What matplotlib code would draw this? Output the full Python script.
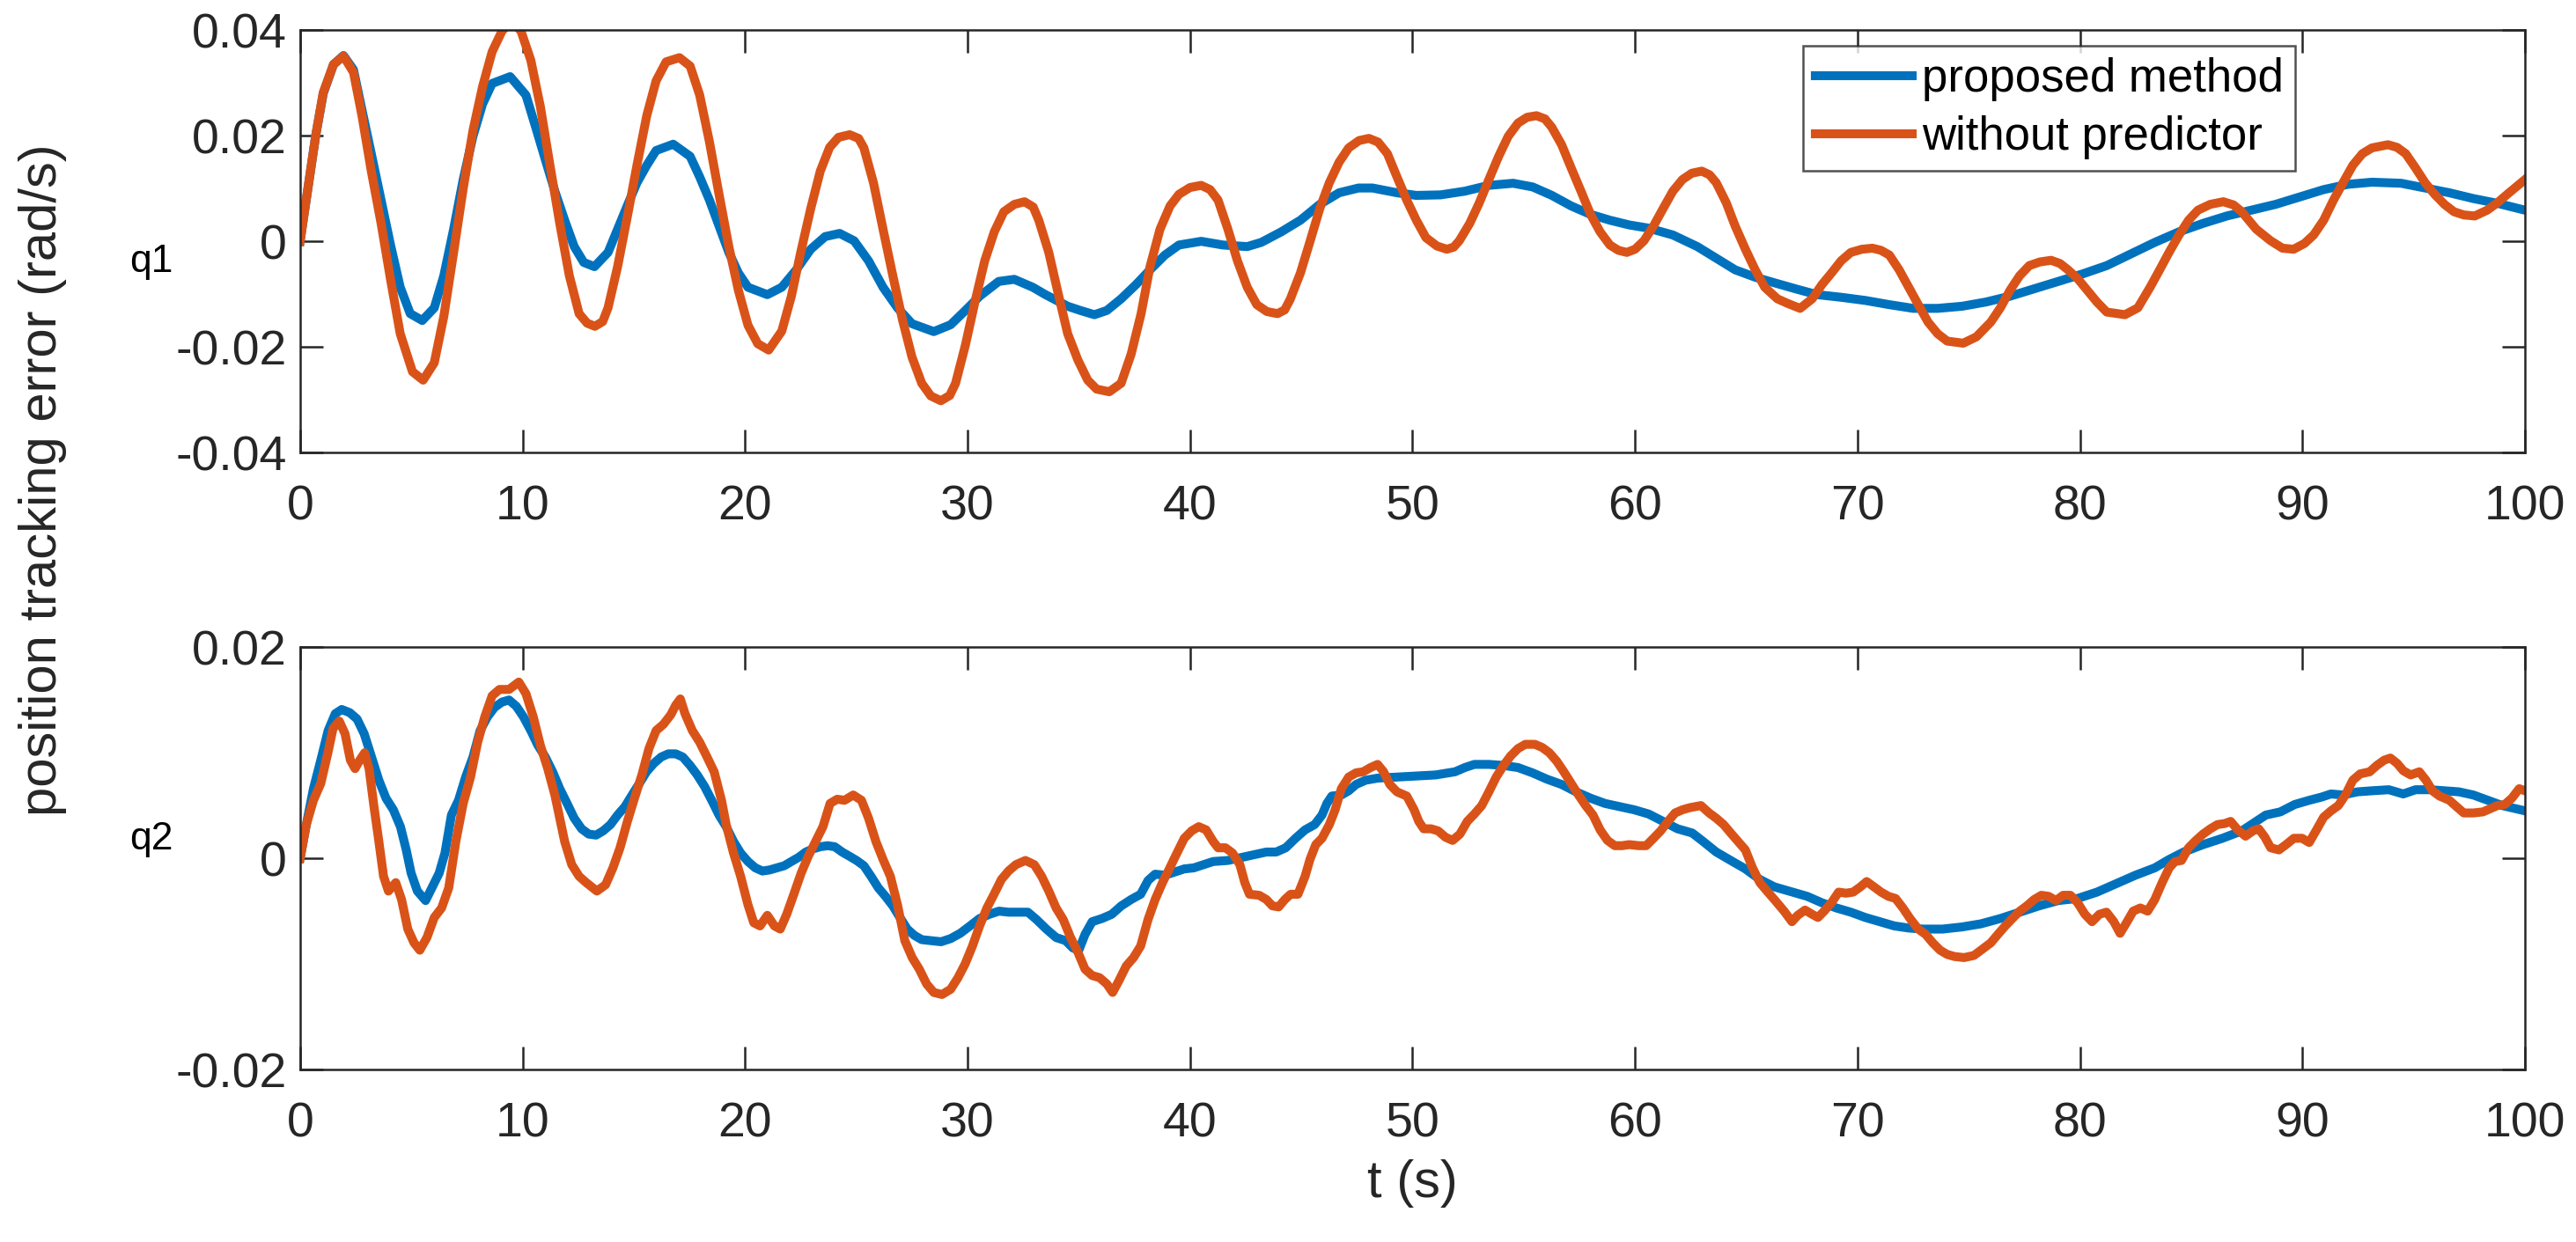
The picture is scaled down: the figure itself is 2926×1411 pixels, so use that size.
# q1 / q2 tracking error: proposed method vs. without predictor

import numpy as np
import matplotlib
matplotlib.use('Agg')
import matplotlib.pyplot as plt

plt.rcParams['font.family'] = ['Liberation Sans', 'DejaVu Sans']
plt.rcParams['axes.unicode_minus'] = False

# ---------------- data ----------------
# q1, proposed method
t_q1_prop = [0, 0.7, 1.04, 1.5, 1.95, 2.4, 2.78, 3.2, 3.64, 4.08, 4.5, 4.95, 5.49, 6.03, 6.46, 6.9,
             7.33, 7.77, 8.2, 8.63, 9.44, 10.15, 10.59, 11.02, 11.45, 11.89, 12.32, 12.75, 13.23,
             13.84, 14.27, 14.7, 15.14, 15.58, 16.0, 16.77, 17.53, 17.96, 18.4, 18.83, 19.27, 19.7,
             20.13, 21.0, 21.65, 22.3, 22.95, 23.6, 24.25, 24.9, 25.55, 26.2, 26.85, 27.5, 28.48,
             29.24, 29.9, 30.54, 31.4, 32.1, 32.93, 33.5, 34.5, 35.07, 35.7, 36.26, 36.9, 37.57,
             38.2, 38.87, 39.5, 40.5, 41.48, 42.57, 43.2, 44.1, 44.96, 45.83, 46.7, 47.57, 48.2,
             49.3, 50.17, 51.26, 52.35, 53.43, 54.52, 55.4, 56.26, 57.13, 58.0, 58.87, 59.74, 60.6,
             61.7, 62.8, 63.65, 64.5, 65.4, 66.3, 67.3, 68.18, 69.26, 70.35, 71.43, 72.5, 73.6,
             74.7, 75.77, 76.85, 77.94, 79.02, 80.1, 81.2, 82.28, 83.36, 84.45, 85.53, 86.6, 87.7,
             88.79, 89.87, 90.95, 92.04, 93.12, 94.43, 95.51, 96.6, 97.68, 98.76, 100]
e_q1_prop = [0, 0.020, 0.028, 0.0335, 0.0352, 0.0325, 0.0249, 0.0166, 0.0078, -0.001, -0.0087,
             -0.0137, -0.015, -0.0126, -0.0065, 0.0023, 0.0117, 0.0199, 0.026, 0.0299, 0.0312,
             0.0277, 0.0216, 0.0155, 0.0095, 0.004, -0.001, -0.004, -0.0048, -0.0021, 0.0023,
             0.0067, 0.0111, 0.0144, 0.0172, 0.0184, 0.0161, 0.0122, 0.0078, 0.0029, -0.0021,
             -0.006, -0.0087, -0.0101, -0.0087, -0.0054, -0.0015, 0.0009, 0.0015, 0.0001, -0.0037,
             -0.0087, -0.0126, -0.0156, -0.0171, -0.0158, -0.0131, -0.0104, -0.0076, -0.0072,
             -0.0087, -0.0101, -0.0123, -0.0131, -0.0139, -0.0131, -0.0109, -0.0082, -0.0054,
             -0.0026, -0.0007, 0.0, -0.0007, -0.001, -0.0002, 0.0018, 0.004, 0.007, 0.0092, 0.0101,
             0.0101, 0.0092, 0.0087, 0.0088, 0.0095, 0.0106, 0.011, 0.0103, 0.0087, 0.0067, 0.0051,
             0.004, 0.0031, 0.0025, 0.0012, -0.001, -0.0032, -0.0054, -0.0068, -0.0079, -0.0091,
             -0.0101, -0.0106, -0.0112, -0.012, -0.0127, -0.0127, -0.0123, -0.0115, -0.0104,
             -0.009, -0.0076, -0.0062, -0.0046, -0.0024, -0.0002, 0.0018, 0.0034, 0.0048, 0.0059,
             0.007, 0.0084, 0.0098, 0.0108, 0.0112, 0.011, 0.0101, 0.0092, 0.0081, 0.0072, 0.0059]

# q1, without predictor
t_q1_wo = [0, 0.7, 1.04, 1.5, 1.95, 2.4, 2.78, 3.2, 3.64, 4.08, 4.5, 5.05, 5.53, 6.03, 6.46, 6.9,
           7.33, 7.77, 8.2, 8.63, 9.07, 9.5, 9.93, 10.37, 10.8, 11.23, 11.67, 12.1, 12.54, 12.9,
           13.25, 13.6, 13.84, 14.27, 14.7, 15.14, 15.58, 16.0, 16.45, 17.05, 17.53, 17.96, 18.4,
           18.83, 19.27, 19.7, 20.13, 20.57, 21.06, 21.65, 22.08, 22.5, 22.95, 23.38, 23.8, 24.2,
           24.7, 25.1, 25.34, 25.77, 26.2, 26.64, 27.07, 27.5, 27.94, 28.35, 28.8, 29.2, 29.46,
           29.9, 30.33, 30.77, 31.2, 31.63, 32.1, 32.56, 32.95, 33.2, 33.65, 34.1, 34.5, 34.96,
           35.4, 35.8, 36.37, 36.9, 37.35, 37.8, 38.2, 38.65, 39.1, 39.5, 40.0, 40.5, 40.9, 41.26,
           41.7, 42.13, 42.57, 43.0, 43.45, 43.93, 44.25, 44.5, 44.96, 45.4, 45.83, 46.26, 46.7,
           47.13, 47.6, 48.04, 48.45, 48.87, 49.3, 49.74, 50.17, 50.6, 51.1, 51.54, 51.85, 52.1,
           52.57, 53.0, 53.43, 53.87, 54.3, 54.74, 55.15, 55.57, 55.95, 56.26, 56.7, 57.13, 57.57,
           58.0, 58.43, 58.87, 59.25, 59.63, 60.0, 60.4, 60.83, 61.26, 61.7, 62.13, 62.55, 63.0,
           63.35, 63.65, 64.1, 64.5, 64.96, 65.4, 65.83, 66.4, 66.88, 67.42, 67.96, 68.4, 68.83,
           69.26, 69.7, 70.2, 70.67, 71.05, 71.43, 71.87, 72.3, 72.73, 73.17, 73.6, 74.03, 74.75,
           75.34, 75.99, 76.42, 76.85, 77.29, 77.72, 78.2, 78.7, 79.1, 79.46, 79.9, 80.33, 80.76,
           81.2, 82.02, 82.6, 83.15, 83.58, 84.0, 84.45, 84.88, 85.3, 85.85, 86.44, 86.9, 87.27,
           87.92, 88.57, 89.1, 89.6, 90.09, 90.5, 90.95, 91.39, 91.82, 92.26, 92.69, 93.12, 93.84,
           94.25, 94.64, 95.08, 95.51, 95.94, 96.38, 96.81, 97.25, 97.74, 98.3, 98.76, 99.2, 100]
e_q1_wo = [0, 0.020, 0.0282, 0.0335, 0.0351, 0.032, 0.0238, 0.0133, 0.0034, -0.0076, -0.0175,
           -0.0247, -0.0263, -0.023, -0.0142, -0.0021, 0.010, 0.021, 0.0293, 0.0359, 0.0398,
           0.0418, 0.0398, 0.0343, 0.0255, 0.0144, 0.0034, -0.0065, -0.0137, -0.0155, -0.0161,
           -0.0152, -0.0126, -0.0048, 0.0045, 0.0144, 0.0238, 0.0304, 0.034, 0.0348, 0.0332,
           0.0277, 0.0188, 0.0089, -0.001, -0.0093, -0.0159, -0.0194, -0.0206, -0.017, -0.0104,
           -0.0021, 0.0062, 0.0133, 0.0178, 0.0197, 0.0202, 0.0195, 0.0177, 0.0111, 0.0023,
           -0.0065, -0.0148, -0.0219, -0.0269, -0.0293, -0.0302, -0.0292, -0.0269, -0.0197,
           -0.0115, -0.0037, 0.0018, 0.0056, 0.007, 0.0075, 0.0065, 0.004, -0.0021, -0.0104,
           -0.0175, -0.0225, -0.0263, -0.028, -0.0285, -0.0269, -0.0214, -0.0137, -0.0048, 0.0023,
           0.0067, 0.0089, 0.0102, 0.0106, 0.0098, 0.0078, 0.0023, -0.0037, -0.0087, -0.012,
           -0.0133, -0.0137, -0.013, -0.011, -0.006, 0.0001, 0.0062, 0.0111, 0.015, 0.0177,
           0.0191, 0.0195, 0.0188, 0.0166, 0.0122, 0.0078, 0.004, 0.0007, -0.0009, -0.0015,
           -0.0011, 0.0001, 0.0034, 0.0073, 0.0117, 0.0161, 0.0199, 0.0224, 0.0235, 0.0238,
           0.0232, 0.0216, 0.0183, 0.0139, 0.0095, 0.0051, 0.0018, -0.0007, -0.0017, -0.0021,
           -0.0015, 0.0001, 0.0029, 0.0062, 0.0095, 0.0117, 0.0129, 0.0133, 0.0126, 0.0111,
           0.0073, 0.0029, -0.0015, -0.0054, -0.0087, -0.0109, -0.0118, -0.0127, -0.0109, -0.0082,
           -0.006, -0.0037, -0.0021, -0.0015, -0.0013, -0.0017, -0.0026, -0.0054, -0.0087, -0.012,
           -0.0153, -0.0175, -0.0189, -0.0193, -0.0181, -0.0153, -0.0126, -0.0093, -0.0065,
           -0.0046, -0.0039, -0.0036, -0.0042, -0.0054, -0.0071, -0.0093, -0.0115, -0.0134,
           -0.0139, -0.0126, -0.0087, -0.0054, -0.0021, 0.0012, 0.004, 0.0059, 0.007, 0.0075,
           0.0069, 0.0056, 0.0023, 0.0001, -0.0013, -0.0015, -0.0004, 0.0012, 0.004, 0.0078,
           0.0111, 0.0144, 0.0166, 0.0177, 0.0183, 0.0178, 0.0166, 0.0139, 0.0111, 0.0089, 0.007,
           0.0056, 0.005, 0.0048, 0.0059, 0.0073, 0.0089, 0.0117]

# q2, proposed method
t_q2_prop = [0, 0.28, 0.6, 0.93, 1.26, 1.58, 1.87, 2.23, 2.56, 2.88, 3.21, 3.54, 3.86, 4.19, 4.51,
             4.77, 4.99, 5.27, 5.64, 5.92, 6.25, 6.51, 6.8, 7.12, 7.44, 7.77, 8.09, 8.42, 8.74,
             9.07, 9.39, 9.72, 10.04, 10.37, 10.69, 11.02, 11.35, 11.67, 12.0, 12.32, 12.65, 12.97,
             13.3, 13.62, 13.95, 14.27, 14.6, 14.92, 15.25, 15.57, 15.9, 16.23, 16.55, 16.88, 17.2,
             17.53, 17.85, 18.18, 18.5, 18.83, 19.15, 19.48, 19.8, 20.13, 20.46, 20.78, 21.1, 21.43,
             21.76, 22.08, 22.41, 22.73, 23.06, 23.38, 23.71, 24.03, 24.36, 24.69, 25.01, 25.34,
             25.66, 25.99, 26.31, 26.64, 26.96, 27.29, 27.61, 27.94, 28.37, 28.81, 29.24, 29.67,
             30.11, 30.54, 30.98, 31.41, 31.84, 32.28, 32.71, 33.1, 33.54, 33.98, 34.41, 34.74,
             35.0, 35.28, 35.6, 36.04, 36.48, 36.91, 37.35, 37.78, 38.11, 38.43, 38.87, 39.3, 39.74,
             40.17, 40.61, 41.04, 41.7, 42.35, 43.0, 43.43, 43.87, 44.3, 44.74, 45.17, 45.6, 45.93,
             46.15, 46.37, 46.8, 47.13, 47.46, 47.89, 48.43, 49.3, 50.17, 51.04, 51.91, 52.35,
             52.78, 53.43, 54.09, 54.74, 55.39, 56.04, 56.7, 57.35, 58.0, 58.65, 59.3, 59.96, 60.61,
             61.26, 61.91, 62.57, 63.0, 63.65, 64.3, 64.96, 65.61, 66.26, 67.09, 67.74, 68.39,
             69.05, 69.7, 70.35, 71.0, 71.65, 72.3, 72.95, 73.82, 74.69, 75.55, 76.42, 77.29,
             78.16, 79.02, 79.89, 80.76, 81.63, 82.49, 83.36, 84.01, 84.66, 85.53, 86.4, 87.27,
             87.92, 88.35, 89.0, 89.65, 90.3, 90.85, 91.28, 91.82, 92.47, 93.12, 93.88, 94.53,
             95.08, 95.73, 96.38, 97.03, 97.68, 98.33, 98.98, 100]
e_q2_prop = [0, 0.0032, 0.0066, 0.0093, 0.0121, 0.0137, 0.0141, 0.0138, 0.0132, 0.0118, 0.0096,
             0.0074, 0.0057, 0.0046, 0.003, 0.0008, -0.0014, -0.0031, -0.004, -0.0028, -0.0014,
             0.0005, 0.0041, 0.0055, 0.0077, 0.0096, 0.0121, 0.0134, 0.0143, 0.0148, 0.015,
             0.0144, 0.0134, 0.0121, 0.0107, 0.0096, 0.0082, 0.0066, 0.0052, 0.0038, 0.0028,
             0.0023, 0.0022, 0.0026, 0.0032, 0.0041, 0.0049, 0.006, 0.0071, 0.0082, 0.009, 0.0096,
             0.0099, 0.0099, 0.0096, 0.0088, 0.0079, 0.0068, 0.0055, 0.0041, 0.003, 0.0016, 0.0005,
             -0.0003, -0.0009, -0.0012, -0.0011, -0.0009, -0.0007, -0.0003, 0.0001, 0.0006,
             0.0009, 0.0011, 0.0012, 0.0011, 0.0006, 0.0002, -0.0002, -0.0007, -0.0017, -0.0028,
             -0.0036, -0.0045, -0.0056, -0.0067, -0.0073, -0.0077, -0.0078, -0.0079, -0.0076,
             -0.0071, -0.0064, -0.0057, -0.0053, -0.005, -0.0051, -0.0051, -0.0051, -0.0058,
             -0.0067, -0.0075, -0.0078, -0.0085, -0.0087, -0.0072, -0.006, -0.0057, -0.0053,
             -0.0045, -0.0039, -0.0034, -0.0021, -0.0015, -0.0016, -0.0013, -0.001, -0.0009,
             -0.0006, -0.0003, -0.0002, 0.0001, 0.0004, 0.0006, 0.0006, 0.001, 0.0019, 0.0027,
             0.0032, 0.0041, 0.0052, 0.0059, 0.006, 0.0064, 0.007, 0.0074, 0.0076, 0.0077, 0.0078,
             0.0079, 0.0082, 0.0086, 0.0089, 0.0089, 0.0088, 0.0086, 0.0081, 0.0075, 0.007, 0.0063,
             0.0057, 0.0052, 0.0049, 0.0046, 0.0042, 0.0035, 0.0028, 0.0024, 0.0017, 0.0006,
             -0.0002, -0.001, -0.002, -0.0027, -0.0032, -0.0036, -0.0042, -0.0047, -0.0051,
             -0.0056, -0.006, -0.0064, -0.0066, -0.0067, -0.0067, -0.0065, -0.0062, -0.0057,
             -0.0051, -0.0045, -0.004, -0.0038, -0.0032, -0.0024, -0.0016, -0.0009, -0.0001,
             0.0006, 0.0013, 0.0019, 0.0026, 0.0035, 0.0041, 0.0044, 0.0051, 0.0055, 0.0058,
             0.0061, 0.006, 0.0063, 0.0064, 0.0065, 0.0061, 0.0065, 0.0065, 0.0064, 0.0063, 0.006,
             0.0055, 0.005, 0.0045]

# q2, without predictor
t_q2_wo = [0, 0.28, 0.6, 0.93, 1.26, 1.48, 1.76, 2.02, 2.26, 2.47, 2.68, 2.9, 3.1, 3.32, 3.54,
           3.75, 3.97, 4.3, 4.56, 4.84, 5.12, 5.38, 5.7, 6.03, 6.36, 6.68, 7.0, 7.33, 7.66, 7.98,
           8.3, 8.63, 8.96, 9.39, 9.83, 10.15, 10.48, 10.8, 11.13, 11.45, 11.67, 11.89, 12.21,
           12.54, 12.86, 13.34, 13.73, 14.06, 14.38, 14.71, 15.03, 15.36, 15.68, 16.0, 16.33,
           16.66, 16.88, 17.09, 17.3, 17.63, 17.96, 18.29, 18.61, 18.94, 19.15, 19.48, 19.8,
           20.13, 20.39, 20.67, 21.0, 21.32, 21.58, 21.87, 22.19, 22.52, 22.84, 23.17, 23.5,
           23.82, 24.14, 24.47, 24.86, 25.23, 25.55, 25.88, 26.2, 26.53, 26.85, 27.18, 27.51,
           27.83, 28.16, 28.48, 28.85, 29.24, 29.57, 29.89, 30.22, 30.54, 30.87, 31.19, 31.52,
           31.84, 32.17, 32.6, 33.0, 33.33, 33.65, 33.98, 34.3, 34.63, 34.96, 35.28, 35.6, 35.93,
           36.26, 36.52, 36.8, 37.13, 37.46, 37.78, 38.11, 38.43, 38.76, 39.09, 39.41, 39.74,
           40.07, 40.39, 40.72, 41.04, 41.26, 41.59, 41.91, 42.24, 42.46, 42.67, 43.11, 43.43,
           43.7, 43.98, 44.26, 44.52, 44.85, 45.17, 45.39, 45.65, 45.93, 46.26, 46.52, 46.8,
           47.13, 47.46, 47.78, 48.11, 48.43, 48.7, 48.98, 49.3, 49.74, 50.07, 50.28, 50.5, 50.83,
           51.15, 51.48, 51.8, 52.13, 52.46, 52.78, 53.11, 53.43, 53.76, 54.09, 54.41, 54.74,
           55.07, 55.5, 55.83, 56.15, 56.48, 56.8, 57.13, 57.46, 57.78, 58.11, 58.43, 58.76,
           59.09, 59.41, 59.74, 60.17, 60.5, 60.83, 61.15, 61.48, 61.8, 62.13, 62.46, 62.96,
           63.33, 63.65, 63.98, 64.3, 64.63, 64.96, 65.28, 65.61, 65.93, 66.26, 66.7, 67.05,
           67.31, 67.64, 67.96, 68.22, 68.5, 68.83, 69.15, 69.48, 69.8, 70.13, 70.41, 70.74,
           71.06, 71.39, 71.71, 72.04, 72.36, 72.73, 73.06, 73.38, 73.71, 74.03, 74.36, 74.79,
           75.23, 75.55, 75.99, 76.31, 76.64, 76.96, 77.29, 77.61, 77.94, 78.26, 78.59, 78.92,
           79.24, 79.57, 79.89, 80.22, 80.54, 80.87, 81.19, 81.52, 81.8, 82.06, 82.39, 82.71,
           83.04, 83.36, 83.69, 84.01, 84.27, 84.56, 84.88, 85.21, 85.53, 85.86, 86.18, 86.51,
           86.77, 87.09, 87.44, 87.77, 88.03, 88.31, 88.57, 88.94, 89.26, 89.61, 89.98, 90.3,
           90.63, 90.95, 91.28, 91.61, 91.93, 92.26, 92.59, 93.02, 93.34, 93.67, 93.95, 94.25,
           94.53, 94.86, 95.25, 95.55, 95.84, 96.16, 96.6, 96.92, 97.25, 97.68, 98.11, 98.44,
           98.76, 99.09, 99.41, 99.74, 100]
e_q2_wo = [0, 0.0032, 0.0055, 0.0071, 0.0101, 0.0123, 0.013, 0.0118, 0.0093, 0.0085, 0.0093,
           0.010, 0.0085, 0.0049, 0.0016, -0.0017, -0.0031, -0.0023, -0.0039, -0.0067, -0.008,
           -0.0087, -0.0075, -0.0056, -0.0047, -0.0028, 0.0016, 0.0052, 0.0077, 0.011, 0.0134,
           0.0154, 0.016, 0.016, 0.0167, 0.0156, 0.0134, 0.0107, 0.0085, 0.006, 0.0038, 0.0016,
           -0.0006, -0.0017, -0.0023, -0.0031, -0.0025, -0.0009, 0.001, 0.0035, 0.0057, 0.0079,
           0.0104, 0.0121, 0.0127, 0.0136, 0.0145, 0.0151, 0.0137, 0.0121, 0.011, 0.0096, 0.0082,
           0.0055, 0.0032, 0.0005, -0.0017, -0.0044, -0.0061, -0.0064, -0.0054, -0.0064, -0.0067,
           -0.0053, -0.0034, -0.0014, 0.0002, 0.0016, 0.003, 0.0052, 0.0056, 0.0055, 0.006,
           0.0055, 0.0038, 0.0016, -0.0001, -0.0017, -0.0044, -0.0078, -0.0094, -0.0105, -0.0119,
           -0.0127, -0.0129, -0.0124, -0.0113, -0.010, -0.0083, -0.0064, -0.0047, -0.0034, -0.002,
           -0.0012, -0.0006, -0.0002, -0.0006, -0.0017, -0.0031, -0.0047, -0.0058, -0.0075,
           -0.0089, -0.0105, -0.0111, -0.0113, -0.0119, -0.0127, -0.0116, -0.0102, -0.0094,
           -0.0083, -0.0058, -0.0039, -0.0023, -0.0009, 0.0005, 0.0019, 0.0026, 0.003, 0.0027,
           0.0016, 0.001, 0.001, 0.0005, -0.0006, -0.0023, -0.0034, -0.0035, -0.0039, -0.0045,
           -0.0046, -0.0039, -0.0034, -0.0034, -0.0017, -0.0001, 0.0013, 0.0019, 0.0032, 0.0046,
           0.0066, 0.0077, 0.0081, 0.0082, 0.0086, 0.0089, 0.0082, 0.007, 0.0063, 0.0059, 0.0046,
           0.0035, 0.0028, 0.0028, 0.0026, 0.002, 0.0017, 0.0023, 0.0035, 0.0042, 0.005, 0.0063,
           0.0077, 0.0088, 0.0097, 0.0104, 0.0108, 0.0108, 0.0105, 0.010, 0.0092, 0.0082, 0.0071,
           0.006, 0.005, 0.0041, 0.0027, 0.0017, 0.0012, 0.0012, 0.0013, 0.0012, 0.0012, 0.0019,
           0.0026, 0.0035, 0.0043, 0.0046, 0.0048, 0.005, 0.0043, 0.0038, 0.0032, 0.0024, 0.0016,
           0.0008, -0.0009, -0.0023, -0.0031, -0.0039, -0.005, -0.006, -0.0054, -0.0049, -0.0053,
           -0.0056, -0.005, -0.0042, -0.0032, -0.0033, -0.0032, -0.0027, -0.0022, -0.0027,
           -0.0032, -0.0036, -0.0038, -0.0047, -0.0057, -0.0067, -0.0072, -0.008, -0.0087,
           -0.0091, -0.0093, -0.0094, -0.0092, -0.0087, -0.008, -0.0072, -0.0064, -0.0057,
           -0.005, -0.0045, -0.0039, -0.0035, -0.0036, -0.004, -0.0035, -0.0035, -0.0042,
           -0.0053, -0.006, -0.0053, -0.0051, -0.006, -0.0071, -0.0062, -0.005, -0.0047, -0.005,
           -0.0039, -0.0023, -0.0009, -0.0003, -0.0002, 0.001, 0.0017, 0.0023, 0.0028, 0.0032,
           0.0033, 0.0035, 0.0027, 0.0021, 0.0026, 0.0028, 0.002, 0.001, 0.0008, 0.0013, 0.0019,
           0.0019, 0.0015, 0.0027, 0.0039, 0.0045, 0.005, 0.006, 0.0074, 0.008, 0.0082, 0.0088,
           0.0093, 0.0095, 0.009, 0.0083, 0.0079, 0.0082, 0.0074, 0.0064, 0.0059, 0.0055, 0.0049,
           0.0043, 0.0043, 0.0044, 0.0047, 0.005, 0.0051, 0.0057, 0.0066, 0.0064]

x_ticks = list(range(0, 101, 10))
y_ticks_q1 = [-0.04, -0.02, 0, 0.02, 0.04]
y_ticks_q2 = [-0.02, 0, 0.02]
y_ticklabels_q1 = ['-0.04', '-0.02', '0', '0.02', '0.04']
y_ticklabels_q2 = ['-0.02', '0', '0.02']

# MATLAB default colours
C_BLUE = '#0072BD'
C_ORANGE = '#D95319'
C_AX = '#262626'

TICK_FS = 40
LABEL_FS = 43
LW = 7.3


def style_axes(ax, yticks, yticklabels, ylim):
    """MATLAB-like box axes with inward ticks"""
    ax.set_xlim(0, 100)
    ax.set_ylim(*ylim)
    ax.set_xticks(x_ticks)
    ax.set_xticklabels([str(v) for v in x_ticks])
    ax.set_yticks(yticks)
    ax.set_yticklabels(yticklabels)
    ax.tick_params(direction='in', length=18.5, width=1.8, colors=C_AX,
                   labelsize=TICK_FS, top=True, right=True)
    ax.tick_params(axis='x', pad=26)
    ax.tick_params(axis='y', pad=11)
    for sp in ax.spines.values():
        sp.set_linewidth(1.8)
        sp.set_color(C_AX)


def main():
    fig = plt.figure(figsize=(29.26, 14.11), dpi=100)

    # 上图 q1
    ax1 = fig.add_axes([0.1165, 0.6357, 0.8637, 0.340])
    ax1.plot(t_q1_prop, e_q1_prop, color=C_BLUE, lw=LW, label='proposed method',
             solid_joinstyle='round')
    ax1.plot(t_q1_wo, e_q1_wo, color=C_ORANGE, lw=LW, label='without predictor',
             solid_joinstyle='round')
    style_axes(ax1, y_ticks_q1, y_ticklabels_q1, (-0.04, 0.04))
    leg = ax1.legend(loc='upper right', bbox_to_anchor=(2607 / 2926, 1 - 52 / 1411),
                     bbox_transform=fig.transFigure, borderaxespad=0, fontsize=38,
                     frameon=True, fancybox=False, edgecolor=C_AX, handlelength=2.1,
                     handletextpad=0.2, borderpad=0.25, labelspacing=0.3)
    leg.get_frame().set_linewidth(1.8)

    # 下图 q2
    ax2 = fig.add_axes([0.1165, 0.1389, 0.8637, 0.340])
    ax2.plot(t_q2_prop, e_q2_prop, color=C_BLUE, lw=LW, solid_joinstyle='round')
    ax2.plot(t_q2_wo, e_q2_wo, color=C_ORANGE, lw=LW, solid_joinstyle='round')
    style_axes(ax2, y_ticks_q2, y_ticklabels_q2, (-0.02, 0.02))
    ax2.set_xlabel('t (s)', fontsize=LABEL_FS, color=C_AX, labelpad=10)

    fig.text(172 / 2926, 1 - 298 / 1411, 'q1', fontsize=32, ha='center', va='center')
    fig.text(172 / 2926, 1 - 953 / 1411, 'q2', fontsize=32, ha='center', va='center')
    fig.text(49 / 2926, 1 - 545 / 1411, 'position tracking error (rad/s)',
             fontsize=LABEL_FS, color=C_AX, rotation=90, ha='center', va='center')

    fig.savefig('out.png', dpi=100)


if __name__ == '__main__':
    main()
